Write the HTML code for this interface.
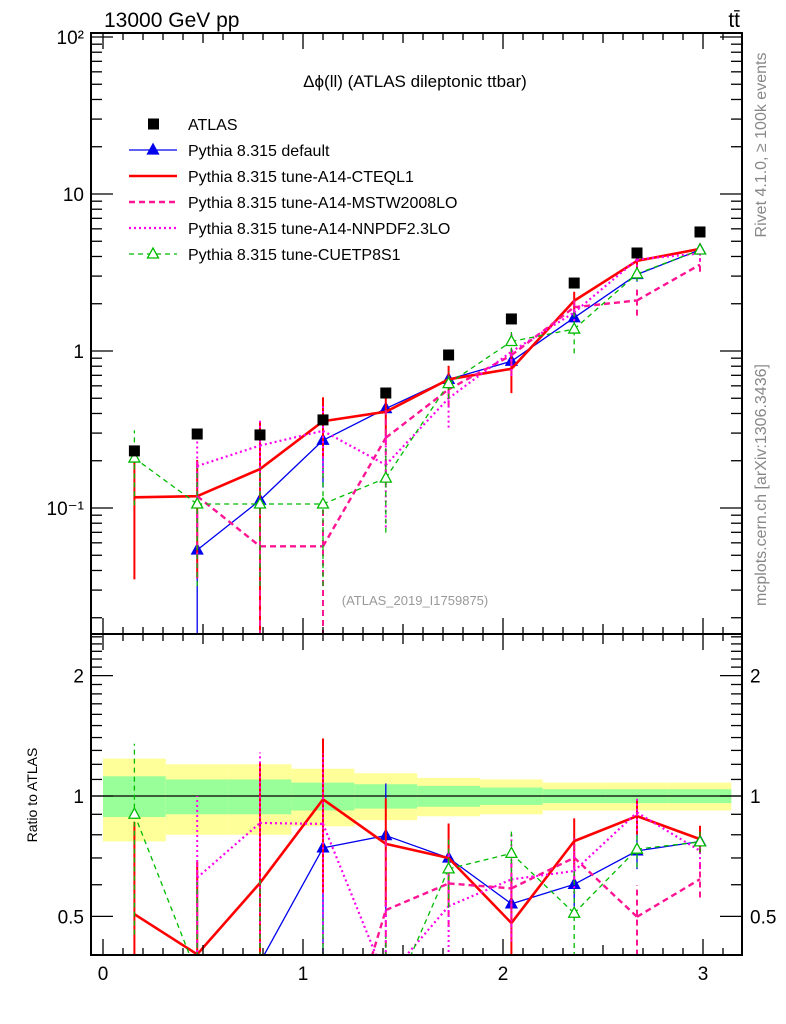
<!DOCTYPE html>
<html><head><meta charset="utf-8"><style>
html,body{margin:0;padding:0;background:#fff;width:786px;height:1024px;overflow:hidden}
svg{display:block;font-family:"Liberation Sans",sans-serif}
</style></head><body>
<svg id="chart" width="786" height="1024" viewBox="0 0 786 1024" xmlns="http://www.w3.org/2000/svg">
<text x="104" y="27" font-size="21">13000 GeV pp</text>
<text x="740" y="27" font-size="21" text-anchor="end">tt̄</text>
<text x="415" y="87" font-size="17" text-anchor="middle">Δϕ(ll) (ATLAS dileptonic ttbar)</text>
<text x="415" y="605" font-size="13" fill="#999" text-anchor="middle">(ATLAS_2019_I1759875)</text>
<text transform="translate(766,145) rotate(-90)" font-size="16" fill="#888" text-anchor="middle">Rivet 4.1.0, ≥ 100k events</text>
<text transform="translate(766,485) rotate(-90)" font-size="16" fill="#888" text-anchor="middle">mcplots.cern.ch [arXiv:1306.3436]</text>
<text transform="translate(37,795) rotate(-90)" font-size="14" text-anchor="middle">Ratio to ATLAS</text>
<g id="band"></g><g id="marks"></g><g id="axes"></g><g id="legend"></g>
</svg>
<script>
const binCenters=[0.157,0.471,0.785,1.100,1.414,1.728,2.042,2.356,2.670,2.985];
const binEdges=[0,0.314,0.628,0.942,1.257,1.571,1.885,2.199,2.513,2.827,3.1416];
const atlas=[0.231,0.296,0.292,0.364,0.540,0.943,1.60,2.71,4.21,5.73];
const greenUp=[1.12,1.10,1.10,1.08,1.07,1.06,1.05,1.04,1.04,1.04];
const greenDn=[0.886,0.90,0.90,0.92,0.93,0.94,0.95,0.96,0.96,0.96];
const yellowUp=[1.24,1.20,1.20,1.17,1.14,1.11,1.10,1.08,1.08,1.08];
const yellowDn=[0.77,0.80,0.80,0.84,0.87,0.89,0.90,0.92,0.92,0.92];
const defaultVals=[null,0.054,0.112,0.27,0.43,0.66,0.86,1.63,3.07,4.41];
const defaultErr=[0,1.0,0.9,0.5,0.35,0.15,0.12,0.12,0.1,0.06];
const cteqVals=[0.117,0.119,0.177,0.357,0.41,0.66,0.77,2.09,3.75,4.47];
const cteqErr=[0.7,0.7,1.0,0.42,0.3,0.22,0.3,0.14,0.1,0.08];
const mstwVals=[null,0.119,0.057,0.057,0.28,0.57,0.94,1.9,2.1,3.55];
const mstwErr=[0,0.7,1.0,1.0,0.5,0.22,0.25,0.12,0.2,0.1];
const nnpdfVals=[null,0.185,0.25,0.31,0.188,0.50,0.99,1.76,3.83,4.18];
const nnpdfErr=[0,0.6,0.5,0.5,0.6,0.35,0.3,0.12,0.1,0.1];
const cuetVals=[0.208,0.106,0.106,0.106,0.155,0.62,1.15,1.38,3.1,4.4];
const cuetErr=[0.5,0.7,0.7,0.7,0.55,0.2,0.15,0.3,0.1,0.06];
const mainYTickLabels=["10⁻¹","1","10","10²"];
const ratioTickLabels=["0.5","1","2"];
const xTickLabels=["0","1","2","3"];

const NS="http://www.w3.org/2000/svg";
const L=91,R=742,T=33,MB=634,RB=955;
const X=v=>103+200*v;
const Y=v=>351-157*Math.log10(v);
const RY=v=>796-400*Math.log10(v);
const clamp=(y,a,b)=>Math.max(a-2,Math.min(b+2,y));
function el(tag,attrs,parent){const e=document.createElementNS(NS,tag);for(const k in attrs)e.setAttribute(k,attrs[k]);parent.appendChild(e);return e;}
const band=document.getElementById('band'),marks=document.getElementById('marks'),axes=document.getElementById('axes'),legend=document.getElementById('legend');

const defs=el('defs',{},document.getElementById('chart'));
const c1=el('clipPath',{id:'cm'},defs);el('rect',{x:L,y:T,width:R-L,height:MB-T},c1);
const c2=el('clipPath',{id:'cr'},defs);el('rect',{x:L,y:MB,width:R-L,height:RB-MB},c2);

for(let i=0;i<10;i++){
  const x0=X(binEdges[i]),x1=X(binEdges[i+1]);
  const y=el('rect',{x:x0,y:RY(yellowUp[i]),width:x1-x0,height:RY(yellowDn[i])-RY(yellowUp[i]),fill:'#ffff99'},band);
  
  
  const g=el('rect',{x:x0,y:RY(greenUp[i]),width:x1-x0,height:RY(greenDn[i])-RY(greenUp[i]),fill:'#99ff99'},band);
  
  
}
const one=el('line',{x1:L,x2:R,y1:RY(1),y2:RY(1),stroke:'#000','stroke-width':1.2},band);



const series=[
 {name:'pythia-default',vals:defaultVals,err:defaultErr,color:'#0000ee',w:1.3,dash:'',marker:'tri-fill'},
 {name:'pythia-cteql1',vals:cteqVals,err:cteqErr,color:'#ff0000',w:2.6,dash:'',marker:''},
 {name:'pythia-mstw2008lo',vals:mstwVals,err:mstwErr,color:'#ff1493',w:2.4,dash:'6,4',marker:''},
 {name:'pythia-nnpdf23lo',vals:nnpdfVals,err:nnpdfErr,color:'#ff00ee',w:2.2,dash:'2,3',marker:''},
 {name:'pythia-cuetp8s1',vals:cuetVals,err:cuetErr,color:'#00bb00',w:1.3,dash:'5,4',marker:'tri-open'}
];
function tri(g,x,y,s,filled){return el('path',{d:`M${x},${y-6}L${x+5.5},${y+4}L${x-5.5},${y+4}Z`,fill:filled?s.color:'#fff',stroke:s.color,'stroke-width':1.3},g);}
for(const s of series){
  for(const panel of ['main','ratio']){
    const g=el('g',{'clip-path':panel=='main'?'url(#cm)':'url(#cr)'},marks);
    
    
    const top=panel=='main'?T:MB, bot=panel=='main'?MB:RB;
    const yraw=(v,i)=>panel=='main'?Y(v):RY(v/atlas[i]);
    const yf=(v,i)=>clamp(yraw(v,i),top,bot);
    // build line with proper clipping at the panel bottom (interpolate crossing)
    let d='';let prev=null;
    s.vals.forEach((v,i)=>{if(v==null)return;
      const x=X(binCenters[i]),y=yraw(v,i);
      if(prev){
        const [px,py]=prev;
        if(py>bot && y>bot){} // both below, skip
        else{
          let sx=px,sy=py,ex=x,ey=y;
          if(sy>bot){const t=(bot+2-sy)/(ey-sy);sx=sx+t*(ex-sx);sy=bot+2;}
          if(ey>bot){const t=(bot+2-sy)/(ey-sy);ex=sx+t*(ex-sx);ey=bot+2;}
          d+='M'+sx+','+sy+'L'+ex+','+ey;
        }
      }
      prev=[x,y];
    });
    const ln=el('path',{d:d,fill:'none',stroke:s.color,'stroke-width':s.w,'stroke-dasharray':s.dash},g);
    
    
    s.vals.forEach((v,i)=>{
      if(v==null)return;
      const lo=Math.max(v*(1-s.err[i]),1e-4),hi=v*(1+s.err[i]);
      const x=X(binCenters[i]);
      const y1=yf(lo,i),y2=yf(hi,i);
      if(y1!==y2){
        const eb=el('line',{x1:x,x2:x,y1:y1,y2:y2,stroke:s.color,'stroke-width':Math.min(s.w,2),'stroke-dasharray':s.dash},g);
        
        
      }
      const ym=yraw(v,i);
      if(s.marker && ym>=top && ym<=bot){const m=tri(g,x,ym,s,s.marker=='tri-fill');
        
        }
    });
  }
}
atlas.forEach((v,i)=>{
  const r=el('rect',{x:X(binCenters[i])-5.5,y:Y(v)-5.5,width:11,height:11,fill:'#000'},marks);
  
  
});

for(const [y0,y1,nm] of [[T,MB,'main-frame'],[MB,RB,'ratio-frame']]){
  const f=el('rect',{x:L,y:y0,width:R-L,height:y1-y0,fill:'none',stroke:'#000','stroke-width':2},axes);
  
  
}
for(let k=0;k<=31;k++){
  const v=k/10,x=X(v),major=k%10==0,len=major?16:(k%5==0?10:7);
  for(const [yy,dir] of [[T,1],[MB,-1],[MB,1],[RB,-1]]){
    el('line',{x1:x,x2:x,y1:yy,y2:yy+dir*len,stroke:'#000','stroke-width':1.3},axes);
  }
}
xTickLabels.forEach((t,i)=>{
  const tx=el('text',{x:X(i),y:980,'font-size':19,'text-anchor':'middle'},axes);
  tx.textContent=t;
  
  
});
for(let e=-2;e<=2;e++){for(let m=1;m<=9;m++){
  const v=m*Math.pow(10,e),y=Y(v);if(y<T||y>MB)continue;
  const len=m==1?22:11;
  el('line',{x1:L,x2:L+len,y1:y,y2:y,stroke:'#000','stroke-width':1.3},axes);
  el('line',{x1:R,x2:R-len,y1:y,y2:y,stroke:'#000','stroke-width':1.3},axes);
}}
mainYTickLabels.forEach((t,i)=>{
  const tx=el('text',{x:84,y:Y(Math.pow(10,i-1))+7,'font-size':19,'text-anchor':'end'},axes);
  tx.textContent=t;
  
  
});
const rt=[0.4,0.5,0.6,0.7,0.8,0.9,1,1.1,1.2,1.3,1.4,1.5,1.6,1.7,1.8,1.9,2,2.1,2.2,2.3,2.4,2.5];
rt.forEach(v=>{const y=RY(v);if(y<MB||y>RB)return;const len=(v==0.5||v==1||v==2)?22:11;
  el('line',{x1:L,x2:L+len,y1:y,y2:y,stroke:'#000','stroke-width':1.3},axes);
  el('line',{x1:R,x2:R-len,y1:y,y2:y,stroke:'#000','stroke-width':1.3},axes);});
[0.5,1,2].forEach((v,i)=>{
  const a=el('text',{x:84,y:RY(v)+7,'font-size':19,'text-anchor':'end'},axes);
  a.textContent=ratioTickLabels[i];
  
  
  const b=el('text',{x:750,y:RY(v)+7,'font-size':19},axes);
  b.textContent=ratioTickLabels[i];
  
  
});
const legItems=[
 {label:'ATLAS',s:null},
 {label:'Pythia 8.315 default',s:series[0]},
 {label:'Pythia 8.315 tune-A14-CTEQL1',s:series[1]},
 {label:'Pythia 8.315 tune-A14-MSTW2008LO',s:series[2]},
 {label:'Pythia 8.315 tune-A14-NNPDF2.3LO',s:series[3]},
 {label:'Pythia 8.315 tune-CUETP8S1',s:series[4]}
];
legItems.forEach((it,i)=>{
  const y=124+26*i;
  const g=el('g',{},legend);
  
  
  if(!it.s){el('rect',{x:148,y:y-5.5,width:11,height:11,fill:'#000'},g);}
  else{el('line',{x1:129,x2:177,y1:y,y2:y,stroke:it.s.color,'stroke-width':Math.min(it.s.w,2.4),'stroke-dasharray':it.s.dash},g);
    if(it.s.marker)tri(g,153,y,it.s,it.s.marker=='tri-fill');}
  const t=el('text',{x:188,y:y+6,'font-size':16},g);t.textContent=it.label;
});
</script>
</body></html>
